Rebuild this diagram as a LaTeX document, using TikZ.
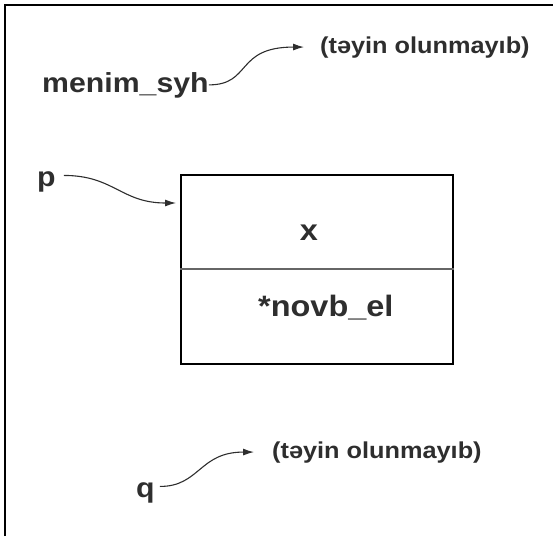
\documentclass[tikz,border=0pt]{standalone}
\usepackage{fontspec}
\setmainfont{Liberation Sans}[FakeStretch=1.1]
\usetikzlibrary{arrows.meta}
\definecolor{txt}{HTML}{2E2E2E}
\tikzset{
  lbl/.style={inner sep=0pt, anchor=base west, text=txt, font=\bfseries\fontsize{#1}{#1}\selectfont},
  arr/.style={draw=txt, line width=1.1pt, -{Latex[length=11pt,width=7pt]}},
  frame/.style={line width=1.8pt, draw=black},
}
\begin{document}
\begin{tikzpicture}[x=1pt,y=-1pt]
\useasboundingbox (0,0) rectangle (553,536);
\draw[frame] (5,536) -- (5,5) -- (553,5);
% texts
\node[lbl=27.5] (menim) at (42,92) {menim\_syh};
\node[lbl=23] (t1) at (320,53) {(təyin olunmayıb)};
\node[lbl=27.5] (p) at (37,186) {p};
\node[lbl=27.5] (q) at (136,497) {q};
\node[lbl=23] (t2) at (272,458) {(təyin olunmayıb)};
% box
\node[draw, line width=2pt, minimum width=272pt, minimum height=189pt, inner sep=0pt, anchor=north west] (box) at (180,174) {};
\draw[draw=black!60, line width=1.5pt] ([yshift=-95pt]box.north west) coordinate (dl) -- ([yshift=-95pt]box.north east) coordinate (dr);
\node[lbl=29.5, anchor=base] (xv) at (309,240) {x};
\node[lbl=29.5] (nel) at (258,316) {*novb\_el};
% connectors
\draw[arr] (menim.east) .. controls +(43,0) and +(-69,0) .. ([xshift=-16pt]t1.west);
\draw[arr] ([xshift=8pt,yshift=6pt]p.east) .. controls +(50,0) and +(-55,0) .. ([xshift=-4pt,yshift=-29pt]box.north west);
\draw[arr] ([xshift=5pt,yshift=6pt]q.east) .. controls +(40,0) and +(-55,0) .. ([xshift=-18pt]t2.west);
\end{tikzpicture}
\end{document}
